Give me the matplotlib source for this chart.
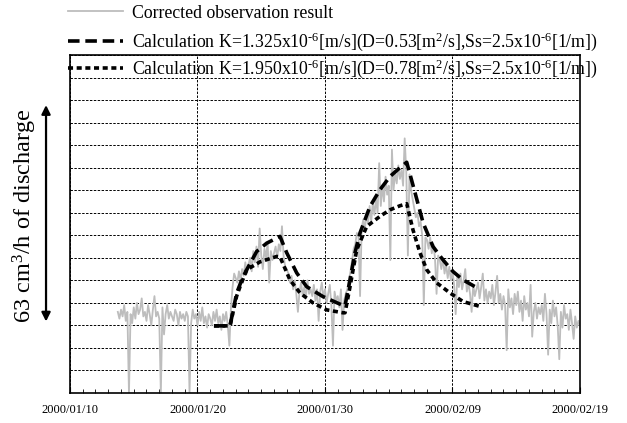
import matplotlib
matplotlib.use('Agg')
import matplotlib.pyplot as plt
import matplotlib.dates as mdates
import numpy as np
import pandas as pd

plt.rcParams['font.family'] = ['Liberation Serif', 'DejaVu Serif']
plt.rcParams['mathtext.fontset'] = 'custom'
plt.rcParams['mathtext.rm'] = 'Liberation Serif'
plt.rcParams['mathtext.it'] = 'Liberation Serif:italic'

# corrected observation, 3-hourly from 2000/01/13 18:00 (y in grid units)
obs_start = '2000-01-13 18:00'
obs = [
    3.6, 3.3,
    3.7, 3.4, 3.9, 3.2, 3.6, 0.0, 3.5, 3.1,   # 01/14
    3.8, 3.3, 4.0, 3.5, 3.7, 4.2, 3.4, 3.6,   # 01/15
    3.2, 3.9, 3.5, 3.0, 3.7, 4.3, 3.4, 3.6,   # 01/16
    3.3, 0.0, 3.8, 2.6, 3.5, 3.9, 3.3, 3.6,   # 01/17
    3.4, 3.2, 3.7, 3.5, 3.0, 3.6, 3.3, 3.5,   # 01/18
    3.2, 3.6, 3.4, 0.0, 3.1, 3.7, 3.3, 3.5,   # 01/19
    3.0, 3.6, 3.2, 3.8, 3.1, 3.4, 2.9, 3.5,   # 01/20
    3.3, 3.0, 3.6, 3.2, 3.7, 3.1, 3.4, 2.8,   # 01/21
    3.5, 3.2, 3.6, 3.0, 2.1, 3.8, 4.7, 5.3,   # 01/22
    5.1, 4.9, 5.4, 5.0, 5.5, 5.2, 5.8, 5.3,   # 01/23
    5.7, 6.0, 5.4, 6.3, 5.8, 6.5, 5.6, 7.3,   # 01/24
    6.1, 5.5, 6.4, 6.0, 6.7, 4.9, 6.3, 5.9,   # 01/25
    6.2, 6.5, 6.0, 6.6, 6.3, 7.4, 6.1, 5.6,   # 01/26
    5.5, 5.3, 4.9, 5.2, 4.6, 5.0, 4.4, 3.6,   # 01/27
    4.5, 4.9, 4.3, 4.7, 4.2, 5.0, 4.4, 4.6,   # 01/28
    4.3, 4.8, 4.1, 4.6, 3.2, 4.5, 4.9, 4.2,   # 01/29
    4.6, 4.0, 4.4, 4.8, 3.9, 2.1, 4.5, 4.1,   # 01/30
    4.3, 3.8, 4.6, 2.8, 4.1, 4.4, 4.6, 5.0,   # 01/31
    5.4, 5.9, 6.4, 6.6, 7.1, 7.0, 4.3, 7.3,   # 02/01
    7.7, 7.2, 8.0, 7.5, 8.3, 7.6, 8.5, 7.9,   # 02/02
    8.6, 8.0, 10.2, 8.3, 9.2, 8.5, 9.6, 8.8,  # 02/03
    9.2, 5.9, 10.8, 9.0, 9.8, 9.3, 10.1, 9.5, # 02/04
    9.9, 9.2, 11.3, 9.8, 6.1, 9.7, 9.0, 8.6,  # 02/05
    8.2, 7.8, 8.0, 7.4, 7.6, 7.0, 3.9, 6.9,   # 02/06
    6.8, 6.4, 6.9, 6.2, 6.6, 6.0, 4.4, 6.1,   # 02/07
    5.9, 5.5, 6.0, 5.3, 5.7, 5.1, 5.6, 5.0,   # 02/08
    5.4, 4.8, 3.5, 5.2, 4.7, 5.3, 4.6, 5.0,   # 02/09
    5.5, 4.5, 4.9, 4.4, 3.6, 4.8, 4.3, 4.6,   # 02/10
    4.9, 4.2, 4.7, 5.3, 4.1, 4.6, 4.0, 4.5,   # 02/11
    4.2, 4.8, 3.9, 4.5, 5.2, 4.0, 4.4, 3.7,   # 02/12
    4.3, 3.9, 1.9, 4.6, 3.8, 4.2, 3.5, 4.4,   # 02/13
    3.9, 4.5, 3.6, 4.1, 3.2, 4.3, 3.7, 4.0,   # 02/14
    3.4, 4.8, 2.5, 3.6, 4.0, 3.3, 3.8, 3.5,   # 02/15
    3.9, 3.2, 4.4, 3.5, 1.7, 3.7, 3.1, 4.1,   # 02/16
    3.4, 3.8, 3.0, 1.5, 3.6, 2.9, 3.9, 3.3,   # 02/17
    3.5, 2.8, 3.7, 3.1, 2.4, 3.4, 2.9, 3.2,   # 02/18
    3.0,
]
obs_t = pd.date_range(obs_start, periods=len(obs), freq='3h')

# calculation K=1.325e-6 (days after 2000/01/10, grid units)
calc1_day = [11.29, 12.55, 13.07, 13.47, 13.86, 14.64, 15.43, 16.47, 17.0, 17.78,
             18.56, 19.84, 21.31, 21.57, 21.96, 22.35, 22.75, 23.53, 24.31, 25.1,
             25.88, 26.41, 27.06, 27.69, 28.47, 29.25, 30.04, 30.82, 31.92]
calc1_val = [2.98, 2.98, 4.43, 5.02, 5.47, 6.28, 6.65, 6.95, 6.22, 5.33,
             4.72, 4.28, 3.91, 3.87, 5.02, 6.22, 7.11, 8.28, 9.02, 9.61,
             10.0, 10.24, 8.89, 7.56, 6.5, 5.91, 5.39, 5.02, 4.67]

# calculation K=1.950e-6
calc2_day = [11.29, 12.55, 13.07, 13.33, 13.86, 14.9, 16.21, 16.47, 17.25, 18.04,
             19.06, 20.13, 21.41, 21.57, 21.96, 22.49, 23.27, 24.31, 25.1, 25.88,
             26.41, 26.9, 27.45, 27.98, 28.76, 29.8, 30.82, 32.16]
calc2_val = [2.98, 2.98, 4.3, 4.71, 5.47, 5.82, 6.06, 6.04, 5.02, 4.44,
             4.0, 3.69, 3.56, 3.56, 4.71, 6.36, 7.39, 7.84, 8.13, 8.31,
             8.4, 7.24, 6.22, 5.47, 4.89, 4.44, 4.06, 3.84]

labels = ['Corrected observation result',
          r'Calculation K=1.325x10$^{\text{-6}}$[m/s](D=0.53[m$^{\text{2}}$/s],Ss=2.5x10$^{\text{-6}}$[1/m])',
          r'Calculation K=1.950x10$^{\text{-6}}$[m/s](D=0.78[m$^{\text{2}}$/s],Ss=2.5x10$^{\text{-6}}$[1/m])']
legend_y = [13, 42, 69]  # pixel rows of the legend entries

t0 = pd.Timestamp('2000-01-10')
c1_t = [t0 + pd.Timedelta(days=d) for d in calc1_day]
c2_t = [t0 + pd.Timedelta(days=d) for d in calc2_day]

fig = plt.figure(figsize=(6.27, 4.23), dpi=100)
ax = fig.add_axes([70 / 627, 30 / 423, 510 / 627, 338 / 423])

l0, = ax.plot(obs_t, obs, color='#bdbdbd', lw=1.3)
l1, = ax.plot(c1_t, calc1_val, color='black', lw=2.6, ls=(0, (3.2, 1.6)))
l2, = ax.plot(c2_t, calc2_val, color='black', lw=2.6, ls=(0, (1.4, 1.0)))

ax.set_xlim(pd.Timestamp('2000-01-10'), pd.Timestamp('2000-02-19'))
ax.set_ylim(0, 15)
ax.set_xticks(pd.date_range('2000-01-10', '2000-02-19', freq='10D'))
ax.xaxis.set_major_formatter(mdates.DateFormatter('%Y/%m/%d'))
ax.xaxis.set_minor_locator(mdates.DayLocator())
ax.tick_params(axis='x', which='both', direction='in', labelsize=9, pad=8)
ax.tick_params(axis='x', which='major', length=4)
ax.tick_params(axis='x', which='minor', length=3)
ax.set_yticks(np.arange(0, 16, 1))
ax.tick_params(axis='y', length=0, labelleft=False)
ax.grid(True, axis='both', which='major', color='black', lw=0.7, ls=(0, (2.5, 1.5)))
ax.set_axisbelow(True)
for s in ax.spines.values():
    s.set_linewidth(1.2)

# y label with double arrow
ax.annotate('', xy=(-0.047, 12.9), xytext=(-0.047, 3.05), xycoords=('axes fraction', 'data'),
            arrowprops=dict(arrowstyle='<|-|>', color='black', lw=1.6, mutation_scale=13),
            annotation_clip=False)
fig.text(25 / 627, 1 - 216 / 423, r'63 cm$^{\text{3}}$/h of discharge', rotation=90,
         ha='center', va='center', fontsize=17.5)

for h, lab, yp in zip([l0, l1, l2], labels, legend_y):
    fig.legend([h], [lab], loc='center left', bbox_to_anchor=(68 / 627, 1 - yp / 423),
               frameon=False, fontsize=12.8, handlelength=3.1, handletextpad=0.5,
               borderpad=0, borderaxespad=0)

fig.savefig('out.png', dpi=100)
